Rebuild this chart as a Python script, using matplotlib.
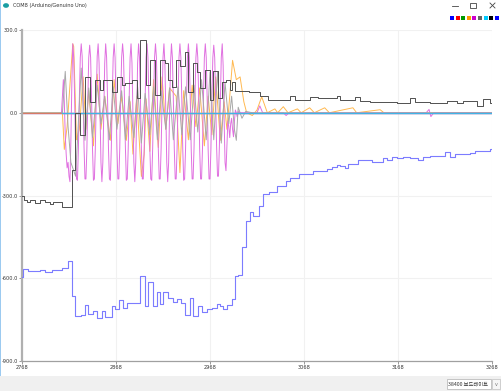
import numpy as np
import matplotlib
matplotlib.use("Agg")
import matplotlib.pyplot as plt
from matplotlib.patches import Rectangle, Circle
from matplotlib.lines import Line2D

W, H = 502, 391
START = 2768
x_ticks = [2768, 2868, 2968, 3068, 3168, 3268]
y_ticks = [-900, -600, -300, 0, 300]
legend_colors = ["#0000ff", "#ff0000", "#009900", "#ff9900", "#cc00cc",
                 "#666666", "#00ccff", "#000000", "#0000ff"]
title_text = "COM8 (Arduino/Genuino Uno)"
baud_text = "38400 보드레이트"

# ---- black series (step values, sample offset -> value)
black_s = [0, 2, 5, 9, 14, 19, 24, 30, 33, 43, 53, 56, 62, 67, 72, 78, 83, 86, 96,
           101, 106, 110, 117, 122, 126, 132, 136, 141, 147, 152, 155, 160, 164,
           168, 173, 177, 182, 186, 189, 195, 200, 203, 209, 213, 217, 221, 223,
           227, 241, 253, 262, 285, 290, 306, 315, 335, 338, 354, 360, 370, 399,
           413, 418, 434, 452, 463, 469, 484, 490, 498, 500]
black_v = [-300, -318, -325, -318, -329, -318, -325, -332, -325, -343, -206, 0,
           -80, 130, 40, 120, 83, 120, 76, 130, 100, 108, 120, 54, 262, 100, 190,
           65, 190, 180, 120, 94, 190, 170, 220, 76, 180, 148, 90, 155, 47, 150,
           55, 112, 120, 83, 112, 80, 75, 61, 47, 61, 47, 58, 54, 61, 47, 58, 43,
           40, 36, 54, 40, 36, 43, 36, 43, 25, 50, 36, 36]

# ---- blue (bottom) series
blue_s = [0, 1, 6, 19, 24, 32, 43, 49, 53, 56, 63, 67, 70, 76, 80, 85, 88, 96, 99,
          103, 107, 112, 126, 131, 134, 139, 144, 147, 150, 155, 161, 165, 169,
          173, 179, 182, 187, 191, 197, 202, 207, 211, 214, 218, 223, 227, 230,
          234, 238, 243, 246, 252, 256, 263, 271, 281, 285, 295, 310, 324, 330,
          335, 338, 344, 347, 357, 372, 384, 388, 394, 399, 405, 413, 421, 427,
          434, 450, 455, 461, 477, 482, 498, 500]
blue_v = [-597, -567, -575, -571, -578, -571, -564, -538, -665, -737, -733, -697,
          -730, -719, -744, -719, -741, -701, -712, -679, -708, -690, -593, -701,
          -614, -701, -650, -694, -650, -672, -686, -676, -690, -733, -672, -737,
          -701, -722, -712, -708, -694, -701, -712, -698, -676, -593, -590, -485,
          -394, -361, -376, -339, -296, -289, -267, -249, -235, -221, -210, -203,
          -195, -188, -192, -199, -185, -173, -177, -163, -170, -159, -163, -159,
          -163, -170, -159, -155, -141, -159, -148, -145, -137, -130, -130]

# ---- magenta series, one value per sample starting at offset 42
mag_start = 42
mag_v = [0, 60, 120, 40, -80, -150, -200, -180, -230, -250, -100, 100,
         250, 200, 50, -130, -240, -245, -130, 50, 200,
         250, 205, 55, -125, -240, -240, -135, 45, 200,
         245, 200, 50, -130, -245, -240, -130, 50, 205,
         250, 180, 0, -180, -250, -180, 0, 180,
         250, 200, 50, -130, -240, -245, -130, 50, 200,
         250, 200, 45, -130, -240, -240, -130, 55, 200,
         250, 205, 50, -125, -245, -240, -130, 50, 200,
         250, 180, 0, -180, -250, -180, 0, 180,
         250, 200, 50, -130, -240, -240, -130, 50, 200,
         250, 200, 50, -130, -240, -245, -130, 50, 200,
         250, 200, 50, -130, -240, -240, -130, 45, 200,
         250, 180, 0, -180, -250, -180, 0, 180,
         250, 200, 50, -130, -240, -240, -130, 50, 200,
         250, 200, 50, -130, -245, -240, -130, 50, 200,
         250, 200, 50, -130, -240, -240, -130, 50, 200,
         250, 200, 55, -130, -240, -240, -130, 50, 200,
         250, 200, 50, -130, -240, -240, -130, 50, 200,
         245, 200, 50, -120, -230, -230, -120, 50, 200,
         250, 170, -20, -180, -210, -120, -30, -50, -90, -40, -20, -60, -87,
         -30, 10, 0, -15, 5, 0]
mag_tail_s = [231, 250, 253, 256, 278, 281, 284, 430, 433, 435, 438, 500]
mag_tail_v = [0, 0, 25, 0, 0, -10, 0, 0, 12, -14, 0, 0]

# ---- orange series (vertices)
orange_s = [0, 43, 45, 48, 51, 54, 55, 58, 61, 65, 68, 71, 76, 80, 84, 88, 94, 98,
            102, 106, 111, 115, 118, 122, 127, 130, 132, 136, 140, 145, 149, 153,
            157, 164, 168, 172, 177, 181, 185, 189, 194, 198, 202, 206, 211, 215,
            218, 221, 224, 228, 232, 236, 239, 245, 250, 255, 261, 269, 272, 278,
            283, 293, 297, 306, 311, 322, 327, 352, 356, 381, 385, 500]
orange_v = [0, 0, -133, -50, 100, 250, 240, -98, -60, 130, -60, 80, -120, 140,
            -60, 60, -100, 120, -40, 60, -100, 40, -150, 60, -231, -150, 50, -140,
            120, -126, 130, -60, 90, 60, -217, 80, -98, 100, -50, 90, -120, 60,
            -80, 130, -100, 40, -60, 60, 190, 120, 130, 40, 0, -10, 10, 58, 0, 14,
            0, 22, 0, 14, 0, 18, 0, 18, 0, 18, 0, 11, 0, 0]

# ---- light gray series (vertices)
gray_s = [0, 43, 46, 49, 52, 57, 63, 67, 71, 75, 80, 84, 88, 93, 97, 101, 106,
          110, 114, 119, 123, 127, 131, 136, 140, 144, 148, 153, 157, 161, 166,
          170, 174, 179, 183, 187, 191, 196, 200, 204, 208, 212, 216, 220, 223,
          226, 228, 230, 234, 238, 245, 500]
gray_v = [0, 0, 150, -50, -180, -230, 162, -100, 90, -90, 100, -40, 60, -98, 94,
          -60, 80, -98, 60, -90, 94, -110, 70, -80, 94, -98, 80, -60, 90, -98, 94,
          -80, 94, -98, 100, -70, 120, -98, 148, -98, 148, -110, 110, -40, 60, -61,
          -100, 20, -20, 5, 0, 0]

# zero-valued channels
zero_s = [0, 500]
zero_v = [0, 0]
cyan_s = [43, 500]
cyan_v = [0, 0]

fig = plt.figure(figsize=(W / 100, H / 100), dpi=100)
fig.patch.set_facecolor("white")


def fx(x):
    return x / W


def fy(y):
    return 1 - y / H


ax = fig.add_axes([fx(22), fy(361), fx(492) - fx(22), fy(30) - fy(361)])
ax.set_xlim(x_ticks[0], x_ticks[-1])
ax.set_ylim(y_ticks[0], y_ticks[-1])
for t in x_ticks:
    ax.axvline(t, color="#f1f1f1", lw=0.8, zorder=0)
for t in y_ticks:
    ax.axhline(t, color="#f1f1f1", lw=0.8, zorder=0)


def xs(lst):
    return np.asarray(lst) + START


ax.plot(xs(zero_s), zero_v, color="#5a6cff", lw=0.9, zorder=1)
ax.plot(xs(zero_s), zero_v, color="#e05555", lw=0.9, zorder=1)
ax.plot(xs(orange_s), orange_v, color="#ffb950", lw=0.7, zorder=2)
ax.plot(xs(np.arange(mag_start, mag_start + len(mag_v))), mag_v,
        color="#e070e0", lw=0.7, zorder=3)
ax.plot(xs(mag_tail_s), mag_tail_v, color="#e070e0", lw=0.7, zorder=3)
ax.plot(xs(gray_s), gray_v, color="#a8a8a8", lw=0.7, zorder=4)
ax.plot(xs(cyan_s), cyan_v, color="#3fb4e6", lw=0.9, zorder=5)
ax.step(xs(black_s), black_v, where="post", color="#505050", lw=0.7, zorder=6)
ax.step(xs(blue_s), blue_v, where="post", color="#7c7cff", lw=0.8, zorder=7)

for s in ["top", "right"]:
    ax.spines[s].set_visible(False)
ax.spines["left"].set_color("#b0b0b0")
ax.spines["left"].set_linewidth(1.6)
ax.spines["bottom"].set_color("#a0a0a0")
ax.spines["bottom"].set_linewidth(0.9)
ax.set_xticks(x_ticks)
ax.set_xticklabels([str(t) for t in x_ticks])
ax.set_yticks(y_ticks)
ax.set_yticklabels(["%.1f" % t for t in y_ticks])
ax.tick_params(axis="both", labelsize=3.6, length=2, width=0.6, color="#888888",
               labelcolor="#333333", pad=1)

# left window border
fig.add_artist(Rectangle((0, 0), fx(1.5), 1, transform=fig.transFigure,
                         color="#9ccaf0", lw=0))
# title bar
fig.add_artist(Circle((fx(6), fy(5.5)), 3.0 / W, transform=fig.transFigure,
                      color="#1a9ea3", lw=0))
fig.text(fx(13), fy(5.8), title_text, fontsize=3.6, color="#333333",
         va="center", ha="left")
fig.add_artist(Line2D([fx(452), fx(458)], [fy(5.5), fy(5.5)],
                      transform=fig.transFigure, color="#444444", lw=0.6))
fig.add_artist(Rectangle((fx(470.5), fy(8)), fx(5.5), 5.0 / H, transform=fig.transFigure,
                         fill=False, ec="#444444", lw=0.6))
fig.add_artist(Line2D([fx(490), fx(495)], [fy(3), fy(8)],
                      transform=fig.transFigure, color="#444444", lw=0.6))
fig.add_artist(Line2D([fx(490), fx(495)], [fy(8), fy(3)],
                      transform=fig.transFigure, color="#444444", lw=0.6))
# legend colour squares
for i, c in enumerate(legend_colors):
    x0 = 450 + i * 5.6
    fig.add_artist(Rectangle((fx(x0), fy(20)), fx(4), 4.3 / H,
                             transform=fig.transFigure, color=c, lw=0))

# bottom bar
fig.add_artist(Rectangle((0, 0), 1, fy(376), transform=fig.transFigure,
                         color="#f0f0f0", lw=0))
fig.add_artist(Rectangle((fx(447), fy(389)), fx(44), 10.0 / H,
                         transform=fig.transFigure, fc="white", ec="#b0b0b0", lw=0.5))
fig.add_artist(Rectangle((fx(492), fy(389)), fx(8), 10.0 / H,
                         transform=fig.transFigure, fc="#f6f6f6", ec="#c0c0c0", lw=0.5))
fig.text(fx(448.5), fy(384), baud_text, fontsize=3.8, color="#333333",
         va="center", ha="left", family=["Noto Sans CJK KR", "DejaVu Sans"])
fig.text(fx(496), fy(384.5), "v", fontsize=3.5, color="#777777",
         va="center", ha="center")

fig.savefig("out.png", dpi=100, facecolor="white")
